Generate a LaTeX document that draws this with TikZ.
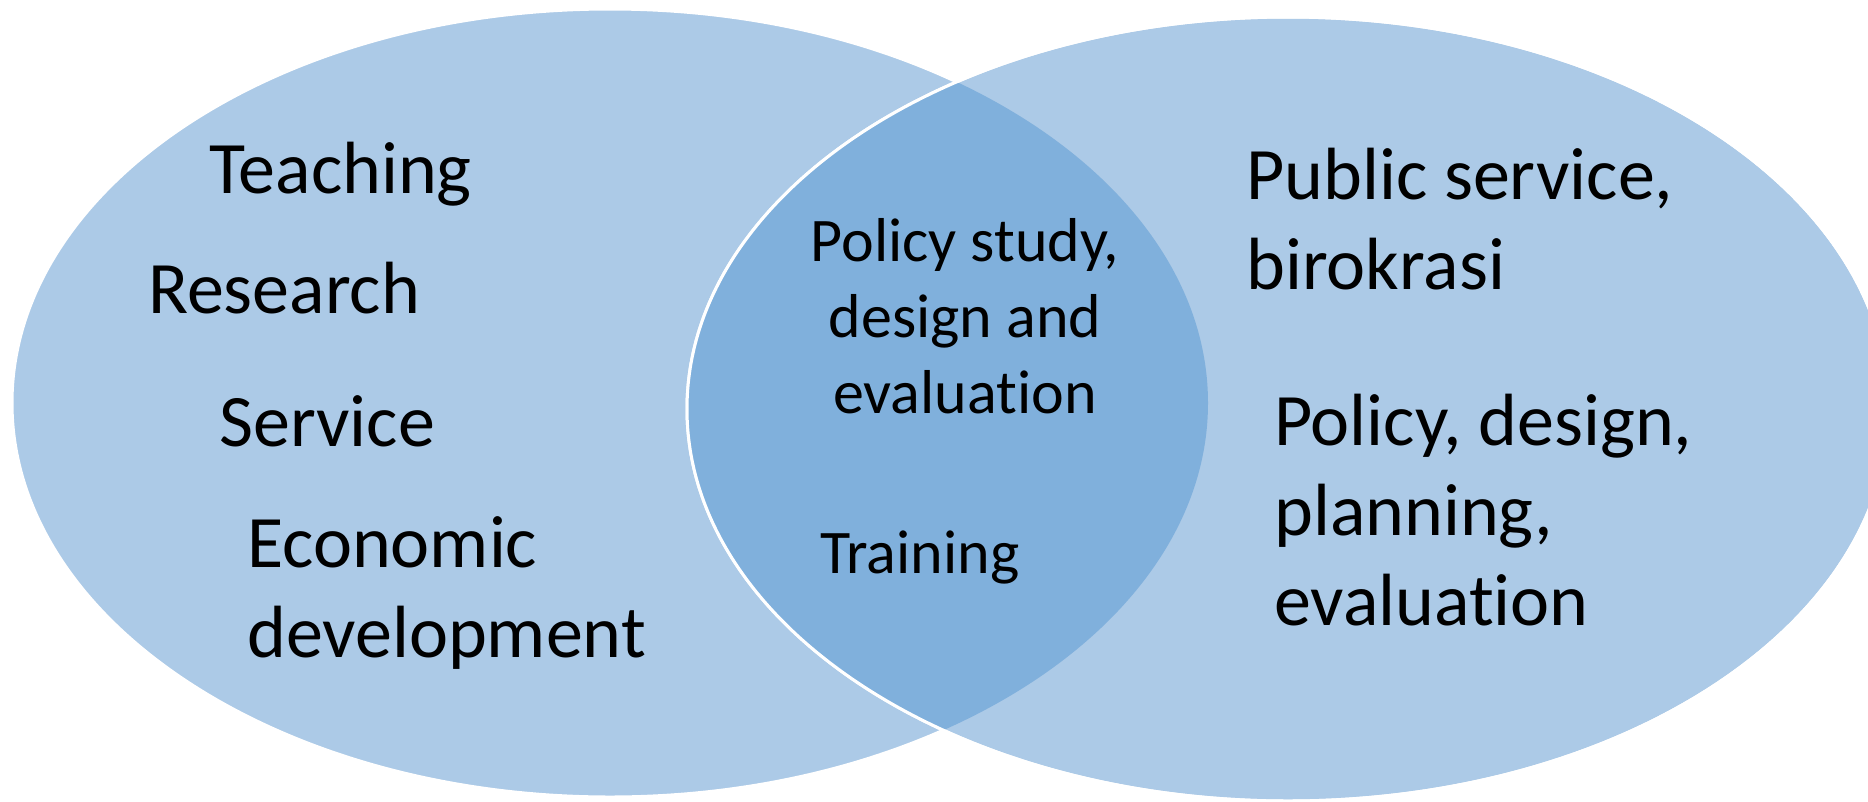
\documentclass[tikz,border=0pt]{standalone}
\usepackage{fontspec}
\setmainfont[Ligatures=NoCommon]{Carlito}
\usetikzlibrary{positioning}
\definecolor{vennlight}{RGB}{172,202,231}
\definecolor{venndark}{RGB}{128,176,220}

\begin{document}
\begin{tikzpicture}[x=1pt, y=-1pt]
    \tikzset{SetText/.style = {anchor=base west, inner sep=0pt, align=left,
        font=\fontsize{74}{90}\selectfont},
      MidText/.style = {anchor=base west, inner sep=0pt, align=center,
        font=\fontsize{62}{76}\selectfont},
      SetEdge/.style = {draw=white, line width=3pt}}
    \useasboundingbox (0,0) rectangle (1868,801);
    \clip (0,0) rectangle (1868,801);
    \fill[white] (0,0) rectangle (1868,801);
    % the two sets
    \filldraw[fill=vennlight, SetEdge] (610,403) ellipse [x radius=598, y radius=394];
    \filldraw[fill=vennlight, SetEdge] (1288,409) ellipse [x radius=601, y radius=392];
    % overlap
    \begin{scope}
      \clip (1288,409) ellipse [x radius=601, y radius=392];
      \fill[venndark] (610,403) ellipse [x radius=598, y radius=394];
    \end{scope}
    \draw[SetEdge] (1288,409) ellipse [x radius=601, y radius=392];
    % left set (multi-line nodes sit on their last baseline)
    \node[SetText] (teach) at (209,193) {Teaching};
    \node[SetText] (research) at (148,313) {Research};
    \node[SetText] (service) at (219,446) {Service};
    \node[SetText] (econ) at (247,657) {Economic\\development};
    % overlap
    \node[MidText, anchor=base] (study) at (965,413) {Policy study,\\design and\\evaluation};
    \node[MidText] (training) at (820,573) {Training};
    % right set
    \node[SetText] (public) at (1246,289) {Public service,\\birokrasi};
    \node[SetText] (policy) at (1274,625) {Policy, design,\\planning,\\evaluation};
\end{tikzpicture}
\end{document}
